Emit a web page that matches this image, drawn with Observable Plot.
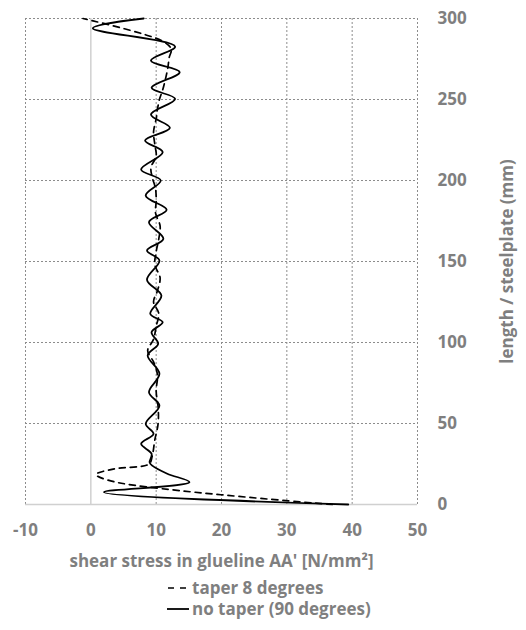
<!DOCTYPE html>
<html><head><meta charset="utf-8">
<script src="https://cdn.jsdelivr.net/npm/d3@7"></script>
<script src="https://cdn.jsdelivr.net/npm/@observablehq/plot@0.6"></script>
<style>
body{margin:0;background:#fff;font-family:"Open Sans",sans-serif;}
#wrap{position:relative;width:526px;height:630px;}
.leg{position:absolute;left:165px;font-weight:bold;font-size:17px;color:#7f7f7f;display:flex;align-items:center;white-space:nowrap;line-height:20px;}
.leg svg{margin-right:2px;}
</style></head><body>
<div id="wrap"><div id="chart"></div>
<div class="leg" style="top:578px"><svg width="25" height="10"><line x1="3" x2="22" y1="5" y2="5" stroke="#000" stroke-width="1.5" stroke-dasharray="6,6"/></svg>taper 8 degrees</div>
<div class="leg" style="top:599px"><svg width="25" height="10"><line x1="2" x2="24" y1="5" y2="5" stroke="#000" stroke-width="1.8"/></svg>no taper (90 degrees)</div>
</div>
<script>
// length along steel plate (mm) and shear stress (N/mm2)
const noTaperLength = [0, 7.6, 13.8, 19, 24, 26, 31.3, 37.5, 43.6, 49.8, 61, 69.3, 80.7, 92, 99.2, 106.4, 112.5, 117.7, 129, 138.7, 150.6, 156.8, 164, 174.3, 181.9, 190.7, 200, 206.8, 217.5, 224.7, 232.5, 240.7, 250.4, 257.2, 266.9, 274, 282.7, 294, 300];
const noTaperStress = [39.4, 2.0, 15.1, 11.7, 9.4, 9.0, 9.3, 7.7, 9.6, 8.4, 10.5, 8.9, 10.5, 8.7, 10.3, 9.3, 11.0, 9.1, 10.8, 8.6, 10.5, 8.6, 11.1, 8.9, 11.6, 8.4, 10.7, 7.7, 11.0, 8.3, 12.1, 9.2, 12.9, 9.3, 13.6, 9.2, 12.9, 0.3, 8.1];
const taperLength = [0, 14, 18.5, 22, 25, 30, 40, 50, 60, 70, 80, 88, 95, 102, 110, 118, 125, 132, 140, 148, 156, 164, 172, 180, 187, 195, 202, 208, 215, 222, 230, 238, 244, 250, 256, 264, 270, 276, 281, 286, 300];
const taperStress = [37.0, 3.6, 0.8, 3.6, 8.9, 9.4, 9.8, 10.3, 10.3, 10.0, 10.2, 9.6, 8.7, 9.6, 10.0, 10.4, 9.6, 10.2, 10.6, 9.8, 10.0, 10.4, 10.6, 9.9, 10.0, 9.9, 9.4, 9.2, 10.0, 9.8, 9.6, 10.0, 10.2, 10.5, 11.0, 11.5, 11.8, 12.0, 12.3, 11.0, -1.2];
const xTicks = [-10, 0, 10, 20, 30, 40, 50];
const yTicks = [0, 50, 100, 150, 200, 250, 300];

const noTaper = noTaperLength.map((l, i) => ({l, s: noTaperStress[i]}));
const taper = taperLength.map((l, i) => ({l, s: taperStress[i]}));

const chart = Plot.plot({
  width: 526, height: 575,
  marginLeft: 25, marginRight: 109, marginTop: 18, marginBottom: 71,
  style: {fontFamily: "'Open Sans', sans-serif", fontSize: "17px", fontWeight: "bold", color: "#7f7f7f", background: "#fff"},
  x: {domain: [-10, 50]},
  y: {domain: [0, 300]},
  marks: [
    Plot.ruleX(xTicks.filter(d => d !== 0), {stroke: "#8c8c8c", strokeDasharray: "2,2", strokeWidth: 1, strokeOpacity: 1}),
    Plot.ruleY(yTicks.filter(d => d !== 0), {stroke: "#8c8c8c", strokeDasharray: "2,2", strokeWidth: 1, strokeOpacity: 1}),
    Plot.ruleX([0], {stroke: "#d0d0d0", strokeWidth: 1.5}),
    Plot.ruleY([0], {stroke: "#d0d0d0", strokeWidth: 1.5}),
    Plot.line(taper, {x: "s", y: "l", curve: "catmull-rom", stroke: "#000", strokeWidth: 1.7, strokeDasharray: "6,5"}),
    Plot.line(noTaper, {x: "s", y: "l", curve: "catmull-rom", stroke: "#000", strokeWidth: 1.8}),
    Plot.axisX({ticks: xTicks, tickFormat: d => String(d), tickSize: 0, tickPadding: 19, fontSize: 17, label: "shear stress in glueline AA' [N/mm²]", labelAnchor: "center", labelArrow: "none", labelOffset: 62}),
    Plot.axisY({anchor: "right", ticks: yTicks, tickFormat: d => String(d), tickSize: 0, tickPadding: 20, fontSize: 17, label: "length / steelplate (mm)", labelAnchor: "center", labelArrow: "none", labelOffset: 95})
  ]
});
document.getElementById("chart").appendChild(chart);
</script></body></html>
